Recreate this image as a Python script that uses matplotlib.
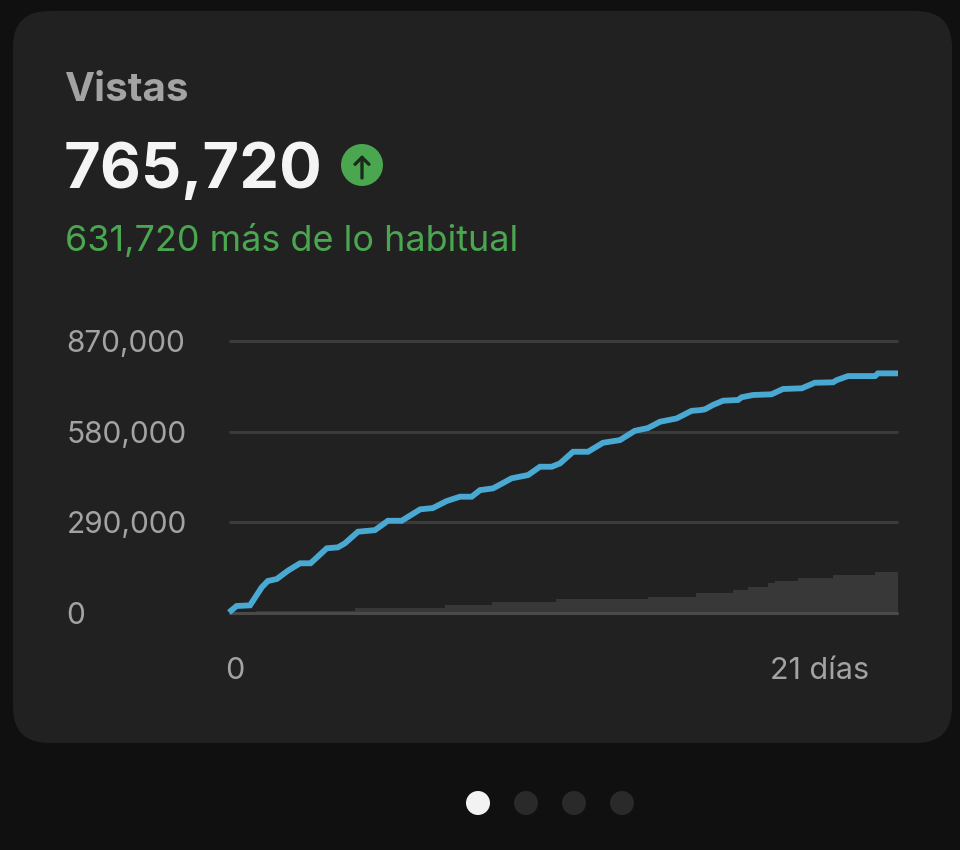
import matplotlib
matplotlib.use('Agg')
import matplotlib.pyplot as plt
from matplotlib.patches import FancyBboxPatch, Circle

plt.rcParams['font.family'] = ['Inter', 'DejaVu Sans']

# cumulative views, this video
days = [0.0, 0.24, 0.66, 1.03, 1.22, 1.50, 1.85, 2.23, 2.56, 3.07, 3.42, 3.64, 4.05, 4.58, 4.99, 5.42,
        6.00, 6.40, 6.83, 7.25, 7.62, 7.88, 8.29, 8.87, 9.39, 9.76, 10.13, 10.39, 10.80, 11.27, 11.74,
        12.27, 12.74, 13.15, 13.53, 14.05, 14.52, 14.78, 14.94, 15.19, 15.51, 15.98, 16.09, 16.45,
        17.03, 17.39, 17.98, 18.39, 18.96, 19.08, 19.43, 20.28, 20.37, 21.0]
views = [2000, 22400, 24500, 82500, 102300, 108700, 135400, 159000, 159000, 207000, 210000, 223000,
         260000, 265000, 295000, 295000, 331500, 335700, 358000, 372000, 372000, 393000, 398700,
         430700, 441300, 467800, 467800, 478500, 515700, 515700, 544500, 553000, 582800, 591500,
         611700, 622300, 646600, 648800, 651500, 665300, 679000, 681400, 690000, 697300, 699500,
         716500, 718700, 736500, 737800, 745000, 757800, 757800, 766500, 766500]

# typical range (grey steps)
usual_days = [0, 0.85, 3.96, 6.78, 8.26, 10.26, 13.15, 14.66, 15.82, 16.29, 16.92, 17.14, 17.86, 18.96, 20.28, 21]
usual_views = [0, 4800, 16000, 25600, 36100, 43800, 52100, 63000, 73600, 82200, 96000, 103300, 111000,
               121500, 132100, 132100]

y_ticks = [0, 290000, 580000, 870000]
y_labels = ['0', '290,000', '580,000', '870,000']

W, H = 960, 850
fig = plt.figure(figsize=(W / 100, H / 100), dpi=100, facecolor='#101010')

# overlay in pixel coords for the card and the texts
bg = fig.add_axes([0, 0, 1, 1])
bg.set_xlim(0, W)
bg.set_ylim(H, 0)
bg.axis('off')
bg.add_patch(FancyBboxPatch((13 + 36, 11 + 36), 939 - 72, 732 - 72,
                            boxstyle='round,pad=36,rounding_size=36', fc='#212121', ec='none'))

bg.text(64, 90, 'Vistas', color='#a3a3a3', fontsize=29, fontweight='bold', va='center', ha='left')
bg.text(64, 171, '765,720', color='#f4f4f4', fontsize=45.5, fontweight='bold', va='center', ha='left')
bg.text(65, 241, '631,720 más de lo habitual', color='#4ba650', fontsize=25.9, va='center', ha='left')

bg.add_patch(Circle((362, 165), 21, fc='#4ba650', ec='none'))
bg.annotate('', xy=(362, 155), xytext=(362, 178),
            arrowprops=dict(arrowstyle='->,head_width=0.5,head_length=0.5', color='#1c2a1c', lw=2.4,
                            shrinkA=0, shrinkB=0))

bg.text(235, 671, '0', color='#a3a3a3', fontsize=22, va='center', ha='center')
bg.text(869, 671, '21 días', color='#a3a3a3', fontsize=22, va='center', ha='right')

for i, cx in enumerate([478, 526, 574, 622]):
    bg.add_patch(Circle((cx, 803), 12, fc='#f2f2f2' if i == 0 else '#2a2a2a', ec='none'))

# chart
ax = fig.add_axes([229 / W, 1 - 613 / H, (898 - 229) / W, (613 - 341) / H])
ax.patch.set_alpha(0)
ax.set_xlim(0, 21)
ax.set_ylim(0, 870000)
for s in ax.spines.values():
    s.set_visible(False)
ax.set_xticks([])
ax.set_yticks(y_ticks)
ax.set_yticklabels(y_labels, ha='left', color='#a3a3a3', fontsize=21.5)
ax.tick_params(axis='y', length=0, pad=117)
ax.yaxis.grid(True, color='#3b3b3b', lw=2.2, clip_on=False)
for g in ax.get_ygridlines():
    g.set_solid_capstyle('butt')
ax.set_axisbelow(True)

ax.fill_between(usual_days, usual_views, 0, step='post', color='#383838', lw=0, zorder=2)
ax.plot([0, 21], [0, 0], color='#4a4a4a', lw=2.2, clip_on=False, zorder=3, solid_capstyle='butt')
ax.plot(days, views, color='#4aa9d3', lw=4.2, clip_on=False, zorder=4,
        solid_capstyle='butt', solid_joinstyle='miter')

fig.savefig('out.png', dpi=100, facecolor=fig.get_facecolor())
